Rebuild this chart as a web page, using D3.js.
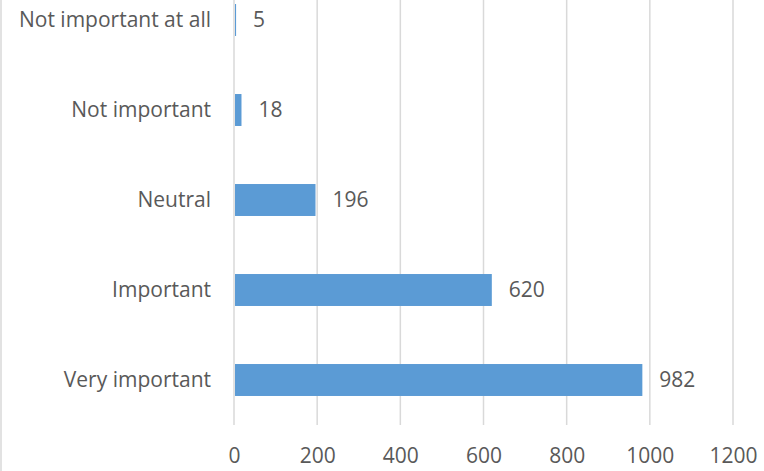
<!DOCTYPE html>
<html>
<head>
<meta charset="utf-8">
<script src="https://cdn.jsdelivr.net/npm/d3@7"></script>
<style>
  html, body { margin: 0; padding: 0; background: #fff; }
  svg { display: block; }
  text { font-family: "Open Sans", Lato, sans-serif; fill: #595959; }
</style>
</head>
<body>
<svg id="chart" width="764" height="471"></svg>
<script>
const categories = ["Not important at all", "Not important", "Neutral", "Important", "Very important"];
const values = [5, 18, 196, 620, 982];
const tickValues = [0, 200, 400, 600, 800, 1000, 1200];

const svg = d3.select("#chart");
const W = 764, H = 471;
const fontSize = 21;
const fontFamily = "'Open Sans', Lato, sans-serif";

// left border
svg.append("line").attr("x1", 1).attr("x2", 1).attr("y1", 0).attr("y2", H)
  .attr("stroke", "#d9d9d9").attr("stroke-width", 1.5);

const x = d3.scaleLinear().domain([0, 1200]).range([234, 733]);
const y = d3.scaleBand().domain(categories).range([-25, 425]).paddingInner(0.645).paddingOuter(0.3225);

// gridlines
svg.append("g").selectAll("line").data(tickValues).join("line")
  .attr("x1", d => x(d)).attr("x2", d => x(d))
  .attr("y1", 0).attr("y2", 425)
  .attr("stroke", "#d9d9d9").attr("stroke-width", 1.5);

// x axis tick labels
const xAxis = d3.axisBottom(x).tickValues(tickValues).tickSize(0).tickPadding(0).tickFormat(d3.format("d"));
const gx = svg.append("g").attr("transform", "translate(0,456)").call(xAxis);
gx.select(".domain").remove();
gx.selectAll("text").attr("dy", "0.35em").attr("y", 0)
  .style("font-size", fontSize + "px").style("font-family", fontFamily).attr("fill", "#595959");

// y axis labels
const yAxis = d3.axisLeft(y).tickSize(0).tickPadding(0);
const gy = svg.append("g").attr("transform", "translate(211,0)").call(yAxis);
gy.select(".domain").remove();
gy.selectAll("text").attr("dy", "0.35em")
  .style("font-size", fontSize + "px").style("font-family", fontFamily).attr("fill", "#595959");

// bars
const data = categories.map((c, i) => ({ c, v: values[i] }));
svg.append("g").selectAll("rect").data(data).join("rect")
  .attr("x", x(0) + 1)
  .attr("y", d => y(d.c))
  .attr("width", d => Math.max(1, x(d.v) - x(0) - 1))
  .attr("height", y.bandwidth())
  .attr("fill", "#5b9bd5");

// value labels
svg.append("g").selectAll("text").data(data).join("text")
  .attr("x", d => x(d.v) + 17)
  .attr("y", d => y(d.c) + y.bandwidth() / 2)
  .attr("dy", "0.35em")
  .style("font-size", fontSize + "px")
  .style("font-family", fontFamily)
  .text(d => d.v);
</script>
</body>
</html>
